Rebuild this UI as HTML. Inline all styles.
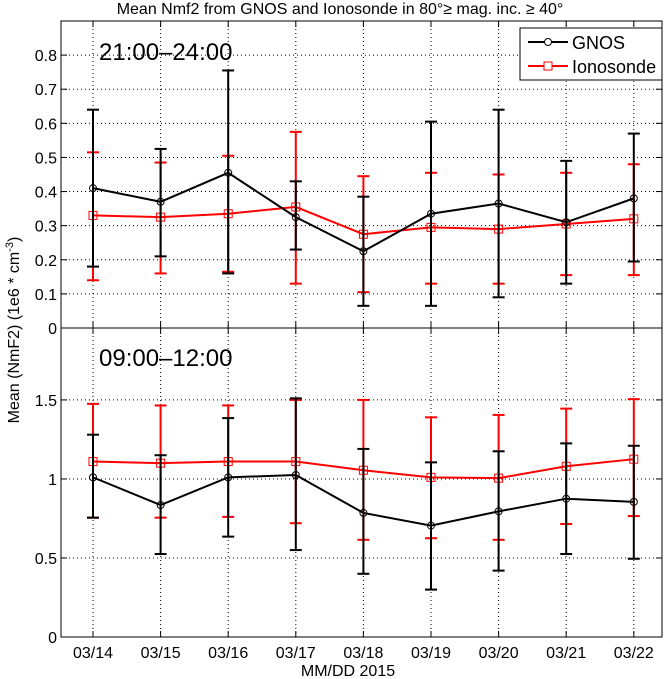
<!DOCTYPE html>
<html><head><meta charset="utf-8"><style>
body{margin:0;background:#fff}
svg{display:block;font-family:"Liberation Sans",Arial,sans-serif}
</style></head><body>
<svg id="c" width="671" height="679" viewBox="0 0 671 679"></svg>
<script>
const categories=["03/14","03/15","03/16","03/17","03/18","03/19","03/20","03/21","03/22"];
const topGnos=[0.41,0.37,0.455,0.325,0.225,0.335,0.365,0.31,0.38];
const topGnosLo=[0.18,0.21,0.16,0.23,0.065,0.065,0.09,0.13,0.195];
const topGnosHi=[0.64,0.525,0.755,0.43,0.385,0.605,0.64,0.49,0.57];
const topIono=[0.33,0.325,0.335,0.355,0.275,0.295,0.29,0.305,0.32];
const topIonoLo=[0.14,0.16,0.165,0.13,0.105,0.13,0.13,0.155,0.155];
const topIonoHi=[0.515,0.485,0.505,0.575,0.445,0.455,0.45,0.455,0.48];
const botGnos=[1.01,0.835,1.01,1.025,0.785,0.705,0.795,0.875,0.855];
const botGnosLo=[0.755,0.525,0.635,0.55,0.40,0.30,0.42,0.525,0.495];
const botGnosHi=[1.28,1.15,1.385,1.51,1.19,1.105,1.175,1.225,1.21];
const botIono=[1.11,1.10,1.11,1.11,1.055,1.01,1.005,1.08,1.125];
const botIonoLo=[0.755,0.755,0.76,0.72,0.615,0.625,0.615,0.715,0.765];
const botIonoHi=[1.475,1.465,1.465,1.5,1.5,1.39,1.405,1.445,1.505];
const topTicks=[0,0.1,0.2,0.3,0.4,0.5,0.6,0.7,0.8];
const botTicks=[0,0.5,1,1.5];

const svg=document.getElementById('c');const NS='http://www.w3.org/2000/svg';
function mk(t,a,p){const e=document.createElementNS(NS,t);for(const k in a)e.setAttribute(k,a[k]);(p||svg).appendChild(e);return e;}
const L=61,R=662;
const xs=i=>93+i*67.6;
const panels=[
 {top:21,bot:328,max:0.9,ticks:topTicks,g:[topGnos,topGnosLo,topGnosHi],r:[topIono,topIonoLo,topIonoHi],label:"21:00\u201324:00",ly:60,fmt:v=>v===0?"0":v.toFixed(1),name:'top-panel'},
 {top:328,bot:637,max:1.955,ticks:botTicks,g:[botGnos,botGnosLo,botGnosHi],r:[botIono,botIonoLo,botIonoHi],label:"09:00\u201312:00",ly:366,fmt:v=>String(v),name:'bottom-panel'}
];
panels.forEach(p=>{
 const gp=mk('g',{});
 
 
 const ys=v=>p.bot-(v/p.max)*(p.bot-p.top);
 categories.forEach((c,i)=>{mk('line',{x1:xs(i),x2:xs(i),y1:p.top,y2:p.bot,stroke:'#000','stroke-width':1,'stroke-dasharray':'1,3'},gp);
  mk('line',{x1:xs(i),x2:xs(i),y1:p.bot,y2:p.bot-6,stroke:'#000'},gp);mk('line',{x1:xs(i),x2:xs(i),y1:p.top,y2:p.top+6,stroke:'#000'},gp);});
 p.ticks.forEach(v=>{const y=ys(v);
  if(v>0)mk('line',{x1:L,x2:R,y1:y,y2:y,stroke:'#000','stroke-dasharray':'1,3'},gp);
  mk('line',{x1:L,x2:L+6,y1:y,y2:y,stroke:'#000'},gp);mk('line',{x1:R,x2:R-6,y1:y,y2:y,stroke:'#000'},gp);
  const t=mk('text',{x:L-4,y:y+6,'text-anchor':'end','font-size':16},gp);t.textContent=p.fmt(v);
  
  });
 mk('rect',{x:L,y:p.top,width:R-L,height:p.bot-p.top,fill:'none',stroke:'#000'},gp);
 const lab=mk('text',{x:99,y:p.ly,'font-size':24},gp);lab.textContent=p.label;
 
 
 [[p.r,'#f00','sq'],[p.g,'#000','ci']].forEach(([s,col,m])=>{
  const [mean,lo,hi]=s;
  mk('polyline',{points:mean.map((v,i)=>xs(i)+','+ys(v)).join(' '),fill:'none',stroke:col,'stroke-width':2},gp);
  mean.forEach((v,i)=>{const x=xs(i);
   mk('line',{x1:x,x2:x,y1:ys(lo[i]),y2:ys(hi[i]),stroke:col,'stroke-width':2},gp);
   mk('line',{x1:x-6,x2:x+6,y1:ys(lo[i]),y2:ys(lo[i]),stroke:col,'stroke-width':2},gp);
   mk('line',{x1:x-6,x2:x+6,y1:ys(hi[i]),y2:ys(hi[i]),stroke:col,'stroke-width':2},gp);
   let mm;
   if(m==='sq')mm=mk('rect',{x:x-4,y:ys(v)-4,width:8,height:8,fill:'none',stroke:col,'stroke-width':1},gp);
   else mm=mk('circle',{cx:x,cy:ys(v),r:3.5,fill:'none',stroke:col,'stroke-width':1},gp);
   
   
  });
 });
});
categories.forEach((c,i)=>{const t=mk('text',{x:xs(i),y:658,'text-anchor':'middle','font-size':16});t.textContent=c;
 
 });
</script>
<div style="position:absolute;left:0;top:0;width:671px;height:679px;pointer-events:none">
<svg width="671" height="679" style="position:absolute;left:0;top:0">
<text x="340" y="14" text-anchor="middle" font-size="16">Mean Nmf2 from GNOS and Ionosonde in 80°≥ mag. inc. ≥ 40°</text>
<text x="348" y="676" text-anchor="middle" font-size="16">MM/DD 2015</text>
<text transform="translate(19,330) rotate(-90)" text-anchor="middle" font-size="16">Mean (NmF2) (1e6 * cm<tspan dy="-6" font-size="11">-3</tspan><tspan dy="6">)</tspan></text>
<g>
<rect x="520" y="28" width="142" height="52" fill="#fff" stroke="#000"/>
<line x1="528" x2="568" y1="42" y2="42" stroke="#000" stroke-width="2"/><circle cx="548" cy="42" r="3.5" fill="#fff" stroke="#000"/>
<text x="572" y="49" font-size="18">GNOS</text>
<line x1="528" x2="568" y1="66" y2="66" stroke="#f00" stroke-width="2"/><rect x="544" y="62" width="8" height="8" fill="#fff" stroke="#f00"/>
<text x="572" y="73" font-size="18">Ionosonde</text>
</g>
</svg></div>
</body></html>
